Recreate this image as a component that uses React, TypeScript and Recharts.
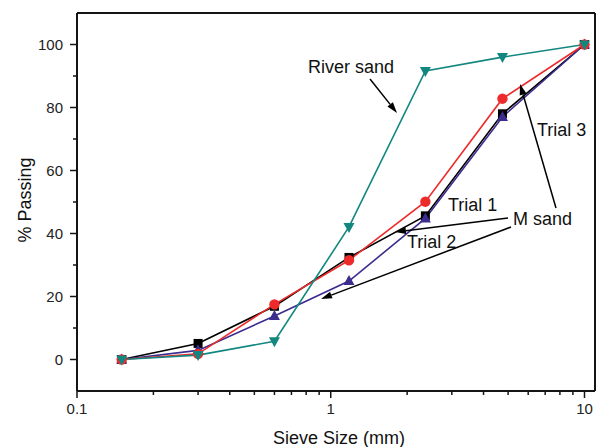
import { LineChart, Line, XAxis, YAxis, ReferenceLine } from 'recharts'

const sieveSizes = [0.15, 0.3, 0.6, 1.18, 2.36, 4.75, 10]
const trial1 = [0, 5.1, 16.9, 32.4, 45.6, 78, 100]
const trial2 = [0, 2.9, 13.8, 24.9, 44.8, 77, 100]
const trial3 = [0, 1.8, 17.5, 31.5, 50.1, 82.8, 100]
const riverSand = [0, 1.4, 5.8, 42.1, 91.6, 96, 100]

const xTicks = [0.1, 0.2, 0.3, 0.4, 0.5, 0.6, 0.7, 0.8, 0.9, 1, 2, 3, 4, 5, 6, 7, 8, 9, 10]
const xMajor = [0.1, 1, 10]
const yTicks = [0, 10, 20, 30, 40, 50, 60, 70, 80, 90, 100]
const yMajor = [0, 20, 40, 60, 80, 100]

const data = sieveSizes.map((size, i) => ({
  size,
  trial1: trial1[i],
  trial2: trial2[i],
  trial3: trial3[i],
  river: riverSand[i],
}))

const FONT = '"Liberation Sans", Arial, sans-serif'
const AXIS = '#151515'

function XTick({ x, y, payload }: any) {
  const major = xMajor.includes(payload.value)
  return (
    <g>
      <line x1={x} y1={y} x2={x} y2={y + (major ? 7 : 4)} stroke={AXIS} strokeWidth={1.5} />
      {major && (
        <text x={x} y={y + 23} textAnchor="middle" fontSize={15} fontFamily={FONT} fill="#222">
          {payload.value}
        </text>
      )}
    </g>
  )
}

function YTick({ x, y, payload }: any) {
  const major = yMajor.includes(payload.value)
  return (
    <g>
      <line x1={x} y1={y} x2={x - (major ? 7 : 4)} y2={y} stroke={AXIS} strokeWidth={1.5} />
      {major && (
        <text x={x - 14} y={y} dy="0.35em" textAnchor="end" fontSize={15} fontFamily={FONT} fill="#222">
          {payload.value}
        </text>
      )}
    </g>
  )
}

function Square({ cx, cy, index }: any) {
  return <rect key={`s${index}`} x={cx - 4.5} y={cy - 4.5} width={9} height={9} fill="#000" />
}

function Circle({ cx, cy, index }: any) {
  return <circle key={`c${index}`} cx={cx} cy={cy} r={5.2} fill="#ee2b2b" />
}

function TriUp({ cx, cy, index }: any) {
  return (
    <path key={`u${index}`} d={`M${cx},${cy - 6} L${cx + 5.5},${cy + 4} L${cx - 5.5},${cy + 4} Z`} fill="#3b2c8e" />
  )
}

function TriDown({ cx, cy, index }: any) {
  return (
    <path key={`d${index}`} d={`M${cx},${cy + 6} L${cx + 5.5},${cy - 4} L${cx - 5.5},${cy - 4} Z`} fill="#12877f" />
  )
}

function Arrow({ x1, y1, x2, y2 }: { x1: number; y1: number; x2: number; y2: number }) {
  const a = Math.atan2(y2 - y1, x2 - x1)
  const L = 11
  const W = 3.5
  const bx = x2 - L * Math.cos(a)
  const by = y2 - L * Math.sin(a)
  const px = -Math.sin(a) * W
  const py = Math.cos(a) * W
  return (
    <g>
      <line x1={x1} y1={y1} x2={bx} y2={by} stroke="#000" strokeWidth={1.5} />
      <path d={`M${x2},${y2} L${bx + px},${by + py} L${bx - px},${by - py} Z`} fill="#000" />
    </g>
  )
}

export default function App() {
  return (
    <div style={{ position: 'absolute', left: 0, top: 0, width: 597, height: 447, background: '#fff' }}>
      <LineChart width={597} height={447} data={data} margin={{ top: 13, right: 2, left: 0, bottom: 0 }}>
        <XAxis
          dataKey="size"
          type="number"
          scale="log"
          domain={[0.1, 11]}
          ticks={xTicks}
          allowDataOverflow
          interval={0}
          height={56}
          tickSize={0}
          tickMargin={0}
          tickLine={false}
          tick={<XTick />}
          axisLine={{ stroke: AXIS, strokeWidth: 2 }}
        />
        <YAxis
          type="number"
          domain={[-10, 110]}
          ticks={yTicks}
          interval={0}
          width={77}
          tickSize={0}
          tickMargin={0}
          tickLine={false}
          tick={<YTick />}
          axisLine={{ stroke: AXIS, strokeWidth: 2 }}
        />
        <ReferenceLine y={110} stroke={AXIS} strokeWidth={2} />
        <ReferenceLine x={11} stroke={AXIS} strokeWidth={2} />
        <Line dataKey="trial1" stroke="#000" strokeWidth={1.6} dot={<Square />} isAnimationActive={false} />
        <Line dataKey="trial2" stroke="#3b2c8e" strokeWidth={1.6} dot={<TriUp />} isAnimationActive={false} />
        <Line dataKey="trial3" stroke="#ee2b2b" strokeWidth={1.6} dot={<Circle />} isAnimationActive={false} />
        <Line dataKey="river" stroke="#12877f" strokeWidth={1.6} dot={<TriDown />} isAnimationActive={false} />
      </LineChart>
      <svg width={597} height={447} style={{ position: 'absolute', left: 0, top: 0, pointerEvents: 'none' }}>
        <g fontFamily={FONT} fontSize={18} fill="#111">
          <text x={308} y={73}>River sand</text>
          <text x={537} y={136}>Trial 3</text>
          <text x={448} y={211}>Trial 1</text>
          <text x={513} y={225}>M sand</text>
          <text x={407} y={248}>Trial 2</text>
          <text x={339} y={444} textAnchor="middle">Sieve Size (mm)</text>
          <text x={31} y={200} textAnchor="middle" transform="rotate(-90 31 200)">% Passing</text>
        </g>
        <Arrow x1={370} y1={79} x2={397} y2={113} />
        <Arrow x1={556} y1={208} x2={520} y2={84} />
        <Arrow x1={508} y1={218} x2={395} y2={232} />
        <Arrow x1={511} y1={227} x2={321} y2={299} />
      </svg>
    </div>
  )
}
